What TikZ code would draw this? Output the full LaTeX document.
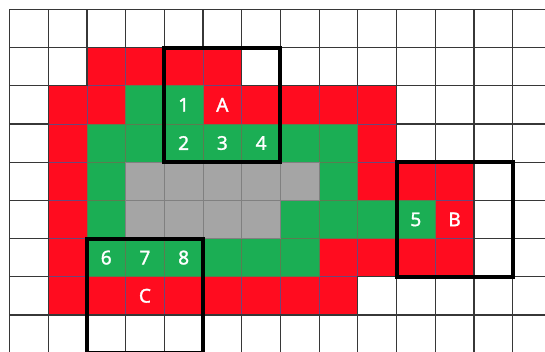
\documentclass[tikz,border=0pt]{standalone}
\usepackage{fontspec}
\newfontfamily\lblfont[FakeBold=1.6]{Noto Sans}
\definecolor{cred}{RGB}{255,12,31}
\definecolor{cgreen}{RGB}{27,174,84}
\definecolor{cgray}{RGB}{165,165,165}
\definecolor{bred}{RGB}{110,70,120}
\definecolor{bgreen}{RGB}{90,125,80}
\definecolor{bgray}{RGB}{128,128,128}
\definecolor{gridc}{RGB}{55,55,55}
\tikzset{
  redcell/.style={fill=cred,draw=bred,line width=0.8pt},
  greencell/.style={fill=cgreen,draw=bgreen,line width=0.8pt},
  graycell/.style={fill=cgray,draw=bgray,line width=0.8pt},
  whitecell/.style={draw=gridc,line width=1.2pt},
  lbl/.style={text=white,font=\lblfont\fontsize{19}{19}\selectfont,inner sep=0pt},
  bigbox/.style={draw=black,line width=4pt}
}
\begin{document}
\begin{tikzpicture}[x=1pt,y=1pt]
\useasboundingbox (0,0) rectangle (545,-351);
\clip (0,0) rectangle (545,-351);
\begin{scope}[shift={(9.5,-9.3)},x=38.7pt,y=-38.2pt]
  % colored cells
  \foreach \c/\r in {2/1,3/1,4/1,5/1,1/2,2/2,5/2,6/2,7/2,8/2,9/2,1/3,9/3,1/4,9/4,10/4,11/4,1/5,11/5,1/6,8/6,9/6,10/6,11/6,1/7,2/7,3/7,4/7,5/7,6/7,7/7,8/7}
    \path[redcell] (\c,\r) rectangle ++(1,1);
  \foreach \c/\r in {3/2,4/2,2/3,3/3,4/3,5/3,6/3,7/3,8/3,2/4,8/4,2/5,7/5,8/5,9/5,10/5,2/6,3/6,4/6,5/6,6/6,7/6}
    \path[greencell] (\c,\r) rectangle ++(1,1);
  \foreach \c/\r in {3/4,4/4,5/4,6/4,7/4,3/5,4/5,5/5,6/5}
    \path[graycell] (\c,\r) rectangle ++(1,1);
  % white cells
  \foreach \r/\a/\b in {0/0/13,1/0/1,1/6/13,2/0/0,2/10/13,3/0/0,3/10/13,4/0/0,4/12/13,5/0/0,5/12/13,6/0/0,6/12/13,7/0/0,7/9/13,8/0/13}
    \foreach \c in {\a,...,\b}
      \path[whitecell] (\c,\r) rectangle ++(1,1);
  % labels
  \node[lbl] (n1) at (4.5,2.5) {1};
  \node[lbl] (nA) at (5.5,2.5) {A};
  \node[lbl] (n2) at (4.5,3.5) {2};
  \node[lbl] (n3) at (5.5,3.5) {3};
  \node[lbl] (n4) at (6.5,3.5) {4};
  \node[lbl] (n5) at (10.5,5.5) {5};
  \node[lbl] (nB) at (11.5,5.5) {B};
  \node[lbl] (n6) at (2.5,6.5) {6};
  \node[lbl] (n7) at (3.5,6.5) {7};
  \node[lbl] (n8) at (4.5,6.5) {8};
  \node[lbl] (nC) at (3.5,7.5) {C};
  % thick boxes
  \draw[bigbox] (4,1) rectangle (7,4);
  \draw[bigbox] (10,4) rectangle (13,7);
  \draw[bigbox] (2,6) rectangle (5,9);
\end{scope}
\end{tikzpicture}
\end{document}
